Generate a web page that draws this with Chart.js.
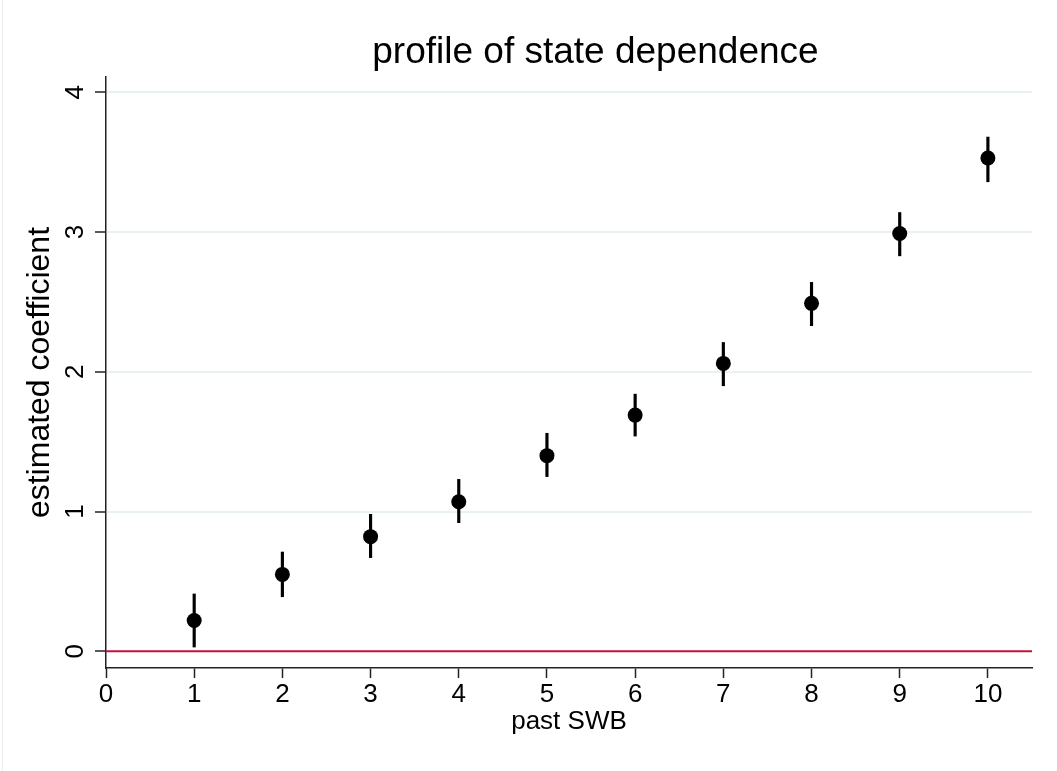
<!DOCTYPE html>
<html>
<head>
<meta charset="utf-8">
<title>profile of state dependence</title>
<script src="https://cdn.jsdelivr.net/npm/chart.js@4"></script>
<style>
  html, body { margin: 0; padding: 0; background: #fff; }
  canvas { display: block; }
</style>
</head>
<body>
<canvas id="grafico" width="1057" height="771"></canvas>
<script>
// dados
const pastSWB = [1, 2, 3, 4, 5, 6, 7, 8, 9, 10];
const coef    = [0.22, 0.55, 0.82, 1.07, 1.40, 1.69, 2.06, 2.49, 2.99, 3.53];
const ciLow   = [0.03, 0.39, 0.67, 0.92, 1.25, 1.54, 1.90, 2.33, 2.83, 3.36];
const ciHigh  = [0.41, 0.71, 0.98, 1.23, 1.56, 1.84, 2.21, 2.64, 3.14, 3.68];
const xTicks  = [0, 1, 2, 3, 4, 5, 6, 7, 8, 9, 10];
const yTicks  = [0, 1, 2, 3, 4];

const titulo = "profile of state dependence";
const fonte = "'Liberation Sans', Arial, Helvetica, sans-serif";

// linha de referência em zero
const zeroLine = [{ x: 0, y: 0 }, { x: 10.5, y: 0 }];

// fundo, borda esquerda, título e rótulos do eixo y (girados, estilo Stata)
const extras = {
  id: "extras",
  beforeDraw(chart) {
    const ctx = chart.ctx;
    ctx.save();
    ctx.fillStyle = "#fff";
    ctx.fillRect(0, 0, chart.width, chart.height);
    ctx.strokeStyle = "#ebebeb";
    ctx.lineWidth = 1;
    ctx.beginPath();
    ctx.moveTo(2.5, 0);
    ctx.lineTo(2.5, chart.height);
    ctx.stroke();
    ctx.restore();
  },
  afterDraw(chart) {
    const ctx = chart.ctx;
    const x = chart.scales.x;
    const y = chart.scales.y;
    ctx.save();
    ctx.fillStyle = "#000";
    ctx.font = "37px " + fonte;
    ctx.textAlign = "center";
    ctx.textBaseline = "alphabetic";
    // título centrado um pouco à direita, como no original
    ctx.fillText(titulo, x.getPixelForValue(5.55), 63);

    ctx.font = "26px " + fonte;
    yTicks.forEach(v => {
      ctx.save();
      ctx.translate(y.right - 23, y.getPixelForValue(v));
      ctx.rotate(-Math.PI / 2);
      ctx.fillText(String(v), 0, 0);
      ctx.restore();
    });
    ctx.restore();
  }
};

const ctx = document.getElementById("grafico").getContext("2d");

new Chart(ctx, {
  data: {
    datasets: [
      {
        type: "line",
        data: zeroLine,
        borderColor: "#c8103a",
        borderWidth: 2,
        pointRadius: 0,
        order: 3
      },
      {
        type: "bar",
        data: pastSWB.map((x, i) => ({ x, y: [ciLow[i], ciHigh[i]] })),
        backgroundColor: "#000",
        borderWidth: 0,
        barThickness: 2.5,
        grouped: false,
        order: 2
      },
      {
        type: "scatter",
        data: pastSWB.map((x, i) => ({ x, y: coef[i] })),
        backgroundColor: "#000",
        borderWidth: 0,
        pointRadius: 7.5,
        order: 1
      }
    ]
  },
  options: {
    responsive: false,
    animation: false,
    layout: { padding: { top: 77, right: 25, bottom: 0, left: 0 } },
    plugins: {
      legend: { display: false },
      tooltip: { enabled: false },
      title: { display: false }
    },
    scales: {
      x: {
        type: "linear",
        min: 0,
        max: 10.5,
        offset: false,
        afterBuildTicks: s => { s.ticks = xTicks.map(v => ({ value: v })); },
        afterFit: s => { s.height = 103; },
        border: { color: "#222", width: 1.5 },
        grid: { offset: false, drawOnChartArea: false, tickLength: 10, tickColor: "#222", tickWidth: 1.5 },
        ticks: { color: "#000", padding: 1, font: { family: fonte, size: 26 } },
        title: {
          display: true,
          text: "past SWB",
          color: "#000",
          font: { family: fonte, size: 26 },
          padding: { top: 0, bottom: 34 }
        }
      },
      y: {
        type: "linear",
        min: -0.12,
        max: 4.11,
        afterBuildTicks: s => { s.ticks = yTicks.map(v => ({ value: v })); },
        afterFit: s => { s.width = 106; },
        border: { color: "#222", width: 1.5 },
        grid: { color: "#eaf1f3", lineWidth: 2, tickLength: 11, tickColor: "#222", tickWidth: 1.5 },
        ticks: { display: false },
        title: {
          display: true,
          text: "estimated coefficient",
          color: "#000",
          font: { family: fonte, size: 32 },
          padding: { top: 21, bottom: 0 }
        }
      }
    }
  },
  plugins: [extras]
});
</script>
</body>
</html>
